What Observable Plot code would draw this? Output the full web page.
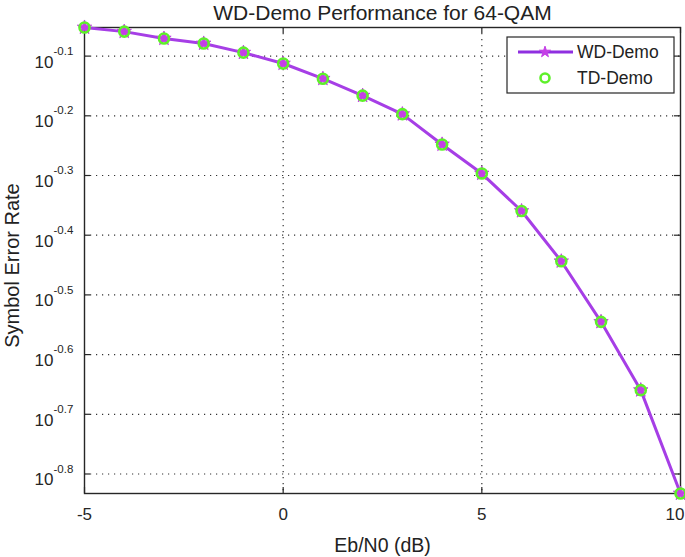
<!DOCTYPE html>
<html>
<head>
<meta charset="utf-8">
<script src="https://cdn.jsdelivr.net/npm/d3@7"></script>
<script src="https://cdn.jsdelivr.net/npm/@observablehq/plot@0.6"></script>
<style>
  html, body { margin: 0; padding: 0; background: #fff; }
  svg { display: block; }
</style>
</head>
<body>
<div id="chart"></div>
<script>
// ---- data ----
const ebn0 = [-5, -4, -3, -2, -1, 0, 1, 2, 3, 4, 5, 6, 7, 8, 9, 10];
const serWD = [0.887, 0.873, 0.850, 0.834, 0.805, 0.772, 0.728, 0.682, 0.635, 0.565, 0.505, 0.437, 0.360, 0.285, 0.219, 0.147];
const serTD = [0.887, 0.873, 0.850, 0.834, 0.805, 0.772, 0.728, 0.682, 0.635, 0.565, 0.505, 0.437, 0.360, 0.285, 0.219, 0.147];
const xTicks = [-5, 0, 5, 10];
const xGrid = [0, 5];
const yTickExps = ["-0.1", "-0.2", "-0.3", "-0.4", "-0.5", "-0.6", "-0.7", "-0.8"];
const seriesNames = ["WD-Demo", "TD-Demo"];
const titleText = "WD-Demo Performance for 64-QAM";
const xLabel = "Eb/N0 (dB)";
const yLabel = "Symbol Error Rate";

const wdData = ebn0.map((x, i) => ({x, y: serWD[i]}));
const tdData = ebn0.map((x, i) => ({x, y: serTD[i]}));
const yTicks = yTickExps.map(e => ({e, v: Math.pow(10, +e)}));
const xTicksInner = xTicks.slice(0, -1);
const xTickLast = xTicks.slice(-1);

const W = 685, H = 557;
const mL = 84, mR = 5, mT = 27, mB = 64;
const pw = W - mL - mR, ph = H - mT - mB;
const lineColor = "#a63ee6";
const starColor = "#c43fe6";
const ringColor = "#5ef02a";
const axisColor = "#262626";
const font = "Liberation Sans, Arial, Helvetica, sans-serif";

const plot = Plot.plot({
  width: W, height: H,
  marginLeft: mL, marginRight: mR, marginTop: mT, marginBottom: mB,
  style: {fontFamily: font, background: "#fff", color: axisColor},
  x: {domain: [-5, 10], axis: null},
  y: {type: "log", domain: d3.extent(serWD), axis: null},
  marks: [
    Plot.gridX(xGrid, {stroke: "#333", strokeOpacity: 1, strokeWidth: 1.2, strokeDasharray: "1.2,4.8"}),
    Plot.gridY(yTicks.map(d => d.v), {stroke: "#333", strokeOpacity: 1, strokeWidth: 1.2, strokeDasharray: "1.2,4.8"}),
    // inner tick marks
    Plot.tickX(xTicks, {x: d => d, insetTop: ph - 6, stroke: axisColor, strokeWidth: 1.2}),
    Plot.tickX(xTicks, {x: d => d, insetBottom: ph - 6, stroke: axisColor, strokeWidth: 1.2}),
    Plot.tickY(yTicks, {y: "v", insetRight: pw - 6, stroke: axisColor, strokeWidth: 1.2}),
    Plot.tickY(yTicks, {y: "v", insetLeft: pw - 6, stroke: axisColor, strokeWidth: 1.2}),
    Plot.frame({stroke: axisColor, strokeWidth: 1.4}),
    // series
    Plot.line(wdData, {x: "x", y: "y", stroke: lineColor, strokeWidth: 3, curve: "linear"}),
    Plot.dot(wdData, {x: "x", y: "y", symbol: "star", r: 4.5, fill: starColor, stroke: starColor, strokeWidth: 1}),
    Plot.dot(tdData, {x: "x", y: "y", r: 5, fill: "none", stroke: ringColor, strokeWidth: 2.6}),
    // x tick labels
    Plot.text(xTicksInner, {x: d => d, frameAnchor: "bottom", dy: 21, text: d => String(d), fontSize: 17, fill: axisColor, lineAnchor: "middle", textAnchor: "middle"}),
    Plot.text(xTickLast, {x: d => d, frameAnchor: "bottom", dy: 21, dx: 4, text: d => String(d), fontSize: 17, fill: axisColor, lineAnchor: "middle", textAnchor: "end"}),
    // y tick labels: 10^exp
    Plot.text(yTicks, {y: "v", frameAnchor: "left", dx: -31, dy: 6, text: () => "10", textAnchor: "end", fontSize: 17, fill: axisColor, lineAnchor: "middle"}),
    Plot.text(yTicks, {y: "v", frameAnchor: "left", dx: -31, dy: -5, text: "e", textAnchor: "start", fontSize: 11.5, fill: axisColor, lineAnchor: "middle"}),
    // title & axis labels
    Plot.text([titleText], {frameAnchor: "top", dy: -14, fontSize: 21, fill: "#222", lineAnchor: "middle", textAnchor: "middle"}),
    Plot.text([xLabel], {frameAnchor: "bottom", dy: 52, fontSize: 19.5, fill: "#222", lineAnchor: "middle", textAnchor: "middle"}),
    Plot.text([yLabel], {frameAnchor: "left", dx: -72, dy: 5, rotate: -90, fontSize: 20, fill: "#222", lineAnchor: "middle", textAnchor: "middle"})
  ]
});

// ---- legend (inside plot, top-right) ----
const svg = d3.select(plot);
const lg = svg.append("g").attr("font-family", font).attr("text-anchor", "start");
const bx = 507, by = 37, bw = 167, bh = 56;
lg.append("rect").attr("x", bx).attr("y", by).attr("width", bw).attr("height", bh)
  .attr("fill", "#fff").attr("stroke", axisColor).attr("stroke-width", 1.2);
const rowY = [by + 15, by + 41];
lg.append("line").attr("x1", bx + 11).attr("x2", bx + 66).attr("y1", rowY[0]).attr("y2", rowY[0])
  .attr("stroke", "#8f2fe0").attr("stroke-width", 3);
lg.append("path").attr("d", d3.symbol(d3.symbolStar, 3.5 * 3.5 * Math.PI)())
  .attr("transform", `translate(${bx + 38},${rowY[0]})`).attr("fill", starColor).attr("stroke", starColor);
lg.append("circle").attr("cx", bx + 38).attr("cy", rowY[1]).attr("r", 4.5)
  .attr("fill", "none").attr("stroke", ringColor).attr("stroke-width", 2.6);
seriesNames.forEach((name, i) => {
  lg.append("text").attr("x", bx + 70).attr("y", rowY[i]).attr("dy", "0.35em")
    .attr("text-anchor", "start")
    .attr("font-size", 17.5).attr("fill", "#222").text(name);
});

document.getElementById("chart").appendChild(plot);
</script>
</body>
</html>
